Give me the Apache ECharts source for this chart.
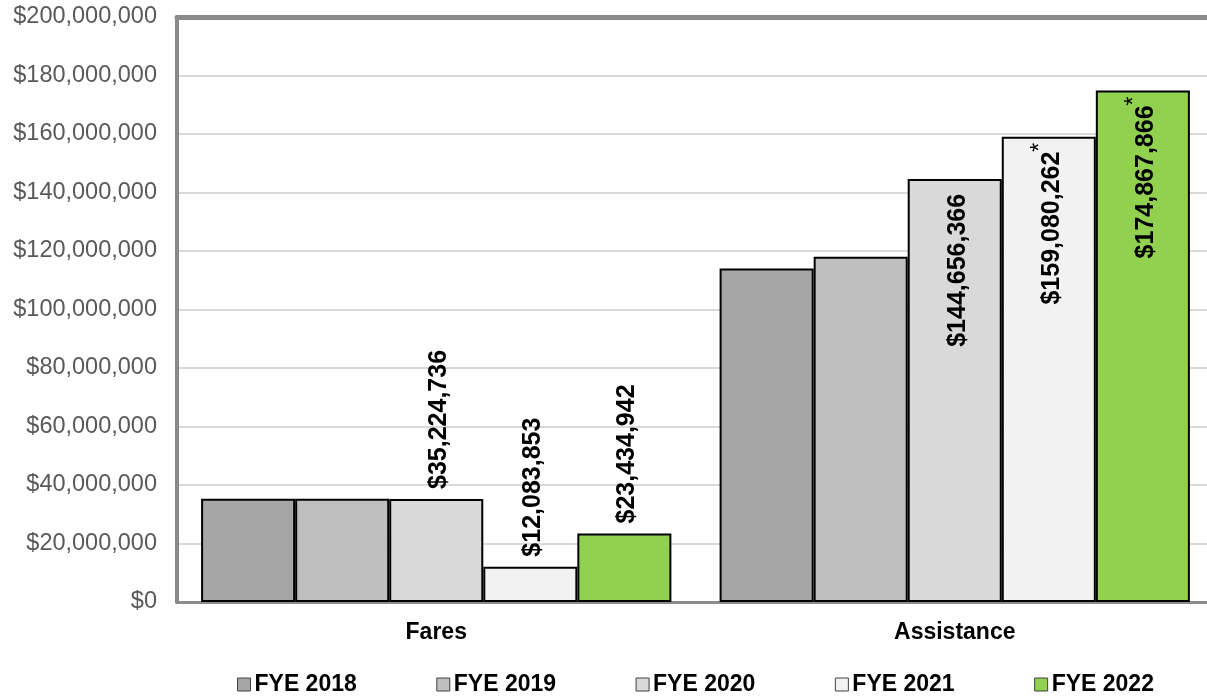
<!DOCTYPE html>
<html>
<head>
<meta charset="utf-8">
<script src="https://cdn.jsdelivr.net/npm/echarts@6/dist/echarts.min.js"></script>
<style>
  html, body { margin: 0; padding: 0; background: #fff; }
  #chart { width: 1207px; height: 696px; }
</style>
</head>
<body>
<div id="chart"></div>
<script>
var categories = ['Fares', 'Assistance'];
var seriesNames = ['FYE 2018', 'FYE 2019', 'FYE 2020', 'FYE 2021', 'FYE 2022'];
var fye2018 = [35300000, 114000000];
var fye2019 = [35300000, 118000000];
var fye2020 = [35224736, 144656366];
var fye2021 = [12083853, 159080262];
var fye2022 = [23434942, 174867866];
var yTicks = [0, 20000000, 40000000, 60000000, 80000000, 100000000, 120000000, 140000000, 160000000, 180000000, 200000000];
// which bars carry a value label, and which have the asterisk
var labelShown = [[false, false], [false, false], [true, true], [true, true], [true, true]];
var starred = [[false, false], [false, false], [false, false], [false, true], [false, true]];

var colors = ['#a6a6a6', '#bfbfbf', '#d9d9d9', '#f2f2f2', '#92d050'];
var allValues = [fye2018, fye2019, fye2020, fye2021, fye2022];
var FONT = 'Liberation Sans';

function money(v) {
  return '$' + Math.round(v).toString().replace(/\B(?=(\d{3})+(?!\d))/g, ',');
}

var chart = echarts.init(document.getElementById('chart'));

var series = [];
for (var s = 0; s < 5; s++) {
  var data = [];
  for (var c = 0; c < categories.length; c++) {
    var star = starred[s][c];
    var lab = {
      show: labelShown[s][c],
      rotate: 90,
      padding: [6, 0, 0, 0],
      fontFamily: FONT,
      fontWeight: 'bold',
      fontSize: 25,
      color: '#000',
      formatter: (function (st) {
        return function (p) { return '{v|' + money(p.value) + '}' + (st ? '{s|*}' : ''); };
      })(star),
      rich: {
        v: { fontFamily: FONT, fontWeight: 'bold', fontSize: 25, color: '#000', lineHeight: star ? 46 : 28, verticalAlign: 'middle' },
        s: { fontFamily: FONT, fontWeight: 'normal', fontSize: 23, color: '#000', lineHeight: 22, verticalAlign: 'top' }
      }
    };
    if (c === 0) {
      lab.position = 'top';
      lab.align = 'left';
      lab.verticalAlign = 'middle';
      lab.distance = 10;
    } else {
      lab.position = 'insideTop';
      lab.align = 'right';
      lab.verticalAlign = 'middle';
      lab.distance = star ? 6 : 15;
    }
    data.push({ value: allValues[s][c], label: lab });
  }
  series.push({
    name: seriesNames[s],
    type: 'bar',
    barGap: '0%',
    barCategoryGap: '9.3%',
    itemStyle: { color: colors[s], borderColor: '#000', borderWidth: 2 },
    data: data
  });
}

var option = {
  animation: false,
  backgroundColor: '#fff',
  grid: { left: 177, width: 1037, top: 17, bottom: 94, outerBoundsMode: 'none' },
  legend: {
    top: 668,
    left: 232,
    itemWidth: 13,
    itemHeight: 13,
    itemGap: 79.5,
    icon: 'rect',
    itemStyle: { borderColor: '#404040', borderWidth: 1 },
    textStyle: { fontFamily: FONT, fontWeight: 'bold', fontSize: 23, color: '#000', padding: [0, 0, 0, -1] },
    data: seriesNames
  },
  xAxis: [{
    type: 'category',
    data: categories,
    axisTick: { show: false },
    axisLine: { show: true, lineStyle: { color: '#8c8c8c', width: 3 } },
    axisLabel: { margin: 19, fontFamily: FONT, fontWeight: 'bold', fontSize: 23, color: '#000' }
  }, {
    type: 'category',
    position: 'top',
    data: categories,
    axisTick: { show: false },
    axisLabel: { show: false },
    axisLine: { show: true, lineStyle: { color: '#8a8a8a', width: 5 } }
  }],
  yAxis: {
    type: 'value',
    min: yTicks[0],
    max: yTicks[yTicks.length - 1],
    interval: yTicks[1] - yTicks[0],
    axisLine: { show: true, lineStyle: { color: '#8a8a8a', width: 4 } },
    axisTick: { show: false },
    splitLine: { lineStyle: { color: '#d9d9d9', width: 2 } },
    axisLabel: {
      margin: 20,
      fontFamily: FONT, fontSize: 23.5, color: '#595959',
      formatter: function (v) { return money(v); }
    }
  },
  series: series
};
chart.setOption(option);
</script>
</body>
</html>
